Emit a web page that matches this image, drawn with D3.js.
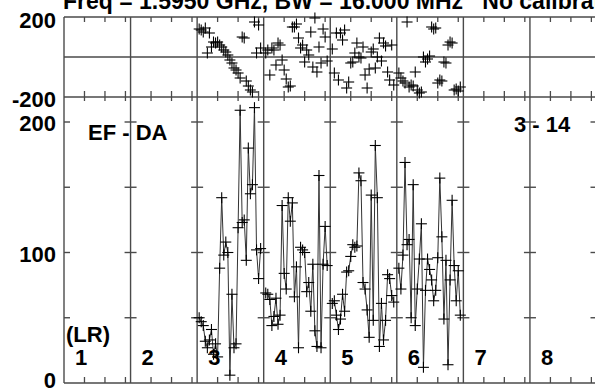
<!DOCTYPE html>
<html><head><meta charset="utf-8">
<script src="https://cdn.jsdelivr.net/npm/d3@7"></script>
<style>
html,body{margin:0;padding:0;background:#fff;}
svg{display:block;font-family:"Liberation Sans",Arial,sans-serif;font-weight:bold;}
</style>
</head><body><svg id="c" width="595" height="391"></svg>
<script>
// ---------------- data ----------------
const titleText = "Freq = 1.5950 GHz, BW = 16.000 MHz   No calibration";
const baselineTitle = "EF - DA";
const rangeTitle = "3 - 14";
const polLabel = "(LR)";
const panels = ["1", "2", "3", "4", "5", "6", "7", "8"];
const channels = [1,2,3,4,5,6,7,8,9,10,11,12,13,14,15,16,17,18,19,20,21,22,23,24,25,26,27,28,29,30,31];
const ampTickValues = [50, 100, 150, 200];
const ampLabelValues = [0, 100, 200];
const phaseLabelValues = [-200, 200];
const chanTickValues = [10, 20, 30];

const amp3 = [50,47,44,32,27,33,41,22,30,20,88,142,98,108,100,6,68,27,30,119,209,123,125,94,180,145,152,211,102,80,103];
const amp4 = [69,68,64,44,51,65,45,52,136,84,72,142,124,138,66,89,27,104,102,100,70,77,55,91,40,28,159,27,91,120,90];
const amp5 = [61,63,52,41,49,68,55,85,86,97,106,104,105,161,155,77,72,56,35,144,48,182,142,28,61,33,48,83,80,67,62];
const amp6 = [88,72,98,169,106,110,50,152,44,72,95,122,12,71,95,87,79,63,71,96,157,112,49,94,14,79,140,90,63,86,52];

const phase3 = [140,135,125,145,20,120,50,75,70,75,60,50,35,25,10,-15,-30,-55,-65,-80,-105,100,95,-120,-145,-165,-175,175,20,160,45];
const phase4 = [20,35,-90,45,35,-40,70,60,-15,-65,-110,-150,-145,150,150,165,95,45,60,-25,35,10,125,-50,195,-75,50,-30,140,100,-20];
const phase5 = [40,-80,120,-115,120,85,135,-155,-125,-30,-25,20,70,0,-5,50,-90,-155,-60,25,40,-55,0,95,-20,70,55,-75,-115,60,-140];
const phase6 = [-80,-105,-120,-130,175,-150,-140,-145,-75,-165,-180,-175,0,-25,-10,5,150,140,145,-130,-115,-120,-25,-30,60,75,70,-165,-160,-170,-150];

const ampData = {"3": amp3, "4": amp4, "5": amp5, "6": amp6};
const phaseData = {"3": phase3, "4": phase4, "5": phase5, "6": phase6};

// ---------------- layout ----------------
const svg = d3.select("#c");
const L = 64, R = 596.5;
const phTop = 17, phBot = 97, amTop = 122, amBot = 383;
const gridCol = "#4a4a4a";

const xPanel = d3.scaleBand().domain(panels).range([L, R]).padding(0);
const yPh = d3.scaleLinear().domain([-200, 200]).range([phBot, phTop]);
const yAm = d3.scaleLinear().domain([0, 200]).range([amBot, amTop]);
const chanScale = p => d3.scaleLinear().domain([0, 32.5]).range([xPanel(p), xPanel(p) + xPanel.bandwidth()]);

// title
svg.append("text").attr("x", 63).attr("y", 8.5).attr("font-size", 23)
  .attr("xml:space", "preserve").style("white-space", "pre").text(titleText);

// panel boundaries
const bounds = panels.map(p => xPanel(p)).concat([R]);
svg.selectAll("line.vb").data(bounds).join("line")
  .attr("x1", d => d).attr("x2", d => d).attr("y1", phTop).attr("y2", amBot)
  .attr("stroke", gridCol).attr("stroke-width", 1.4);

// horizontal frame lines
[[phTop], [yPh(0)], [phBot], [amBot]].forEach(([y]) => {
  svg.append("line").attr("x1", L).attr("x2", R).attr("y1", y).attr("y2", y)
    .attr("stroke", gridCol).attr("stroke-width", 1.4);
});

// amplitude ticks on boundaries
bounds.forEach((bx, i) => {
  ampTickValues.forEach(v => {
    svg.append("line").attr("x1", i === 0 ? bx : bx - 6).attr("x2", bx + 6)
      .attr("y1", yAm(v)).attr("y2", yAm(v)).attr("stroke", gridCol).attr("stroke-width", 1.4);
  });
});

// channel ticks
panels.forEach(p => {
  const xs = chanScale(p);
  chanTickValues.forEach(c => {
    const x = xs(c);
    [[amBot, amBot - 6], [phBot + 4, phBot - 6], [phTop, phTop + 5]].forEach(([a, b]) => {
      svg.append("line").attr("x1", x).attr("x2", x).attr("y1", a).attr("y2", b)
        .attr("stroke", gridCol).attr("stroke-width", 1.3);
    });
  });
});

// axis labels
svg.selectAll("text.pl").data(phaseLabelValues).join("text")
  .attr("x", 56).attr("y", d => yPh(d) + (d > 0 ? 11 : 10)).attr("text-anchor", "end")
  .attr("font-size", 22).text(d => d);
svg.selectAll("text.al").data(ampLabelValues).join("text")
  .attr("x", 56).attr("y", d => yAm(d) + (d === 0 ? 5 : 9)).attr("text-anchor", "end")
  .attr("font-size", 22).text(d => d);

// data
const cross = 5.5;
panels.forEach(p => {
  if (!ampData[p]) return;
  const xs = chanScale(p);
  const a = ampData[p], ph = phaseData[p];
  const pts = channels.map((c, i) => [xs(c), yAm(a[i])]);
  svg.append("path").attr("d", d3.line()(pts)).attr("fill", "none")
    .attr("stroke", "#333").attr("stroke-width", 1);
  const g = svg.append("g").attr("stroke", "#000").attr("stroke-width", 1.1);
  pts.forEach(([x, y]) => {
    g.append("line").attr("x1", x - cross).attr("x2", x + cross).attr("y1", y).attr("y2", y);
    g.append("line").attr("x1", x).attr("x2", x).attr("y1", y - cross).attr("y2", y + cross);
  });
  channels.forEach((c, i) => {
    const x = xs(c), y = yPh(ph[i]);
    g.append("line").attr("x1", x - cross).attr("x2", x + cross).attr("y1", y).attr("y2", y);
    g.append("line").attr("x1", x).attr("x2", x).attr("y1", y - cross).attr("y2", y + cross);
  });
});

// annotations
svg.append("text").attr("x", 88).attr("y", 140).attr("font-size", 22).text(baselineTitle);
svg.append("text").attr("x", 514).attr("y", 132).attr("font-size", 22).text(rangeTitle);
svg.append("text").attr("x", 66).attr("y", 342).attr("font-size", 22).text(polLabel);
panels.forEach(p => {
  svg.append("text").attr("x", xPanel(p) + 11).attr("y", 365).attr("font-size", 22).text(p);
});
</script>
</body></html>
